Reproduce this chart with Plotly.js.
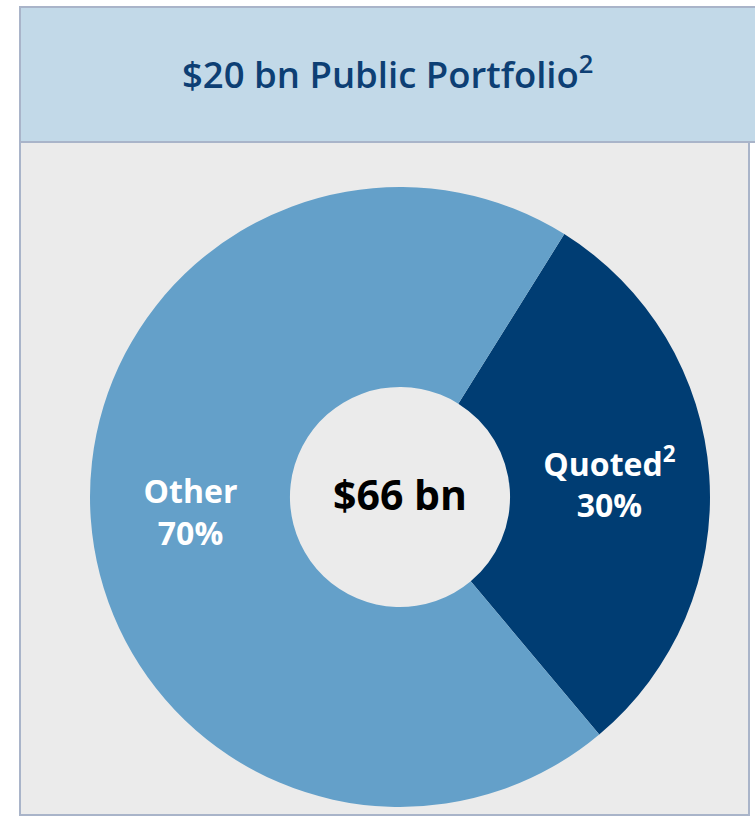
<!DOCTYPE html>
<html><head><meta charset="utf-8">
<script src="https://cdn.plot.ly/plotly-3.0.1.min.js"></script>
<style>html,body{margin:0;padding:0;background:#fff;}#chart{width:755px;height:817px;}</style>
</head><body><div id="chart"></div>
<script>
const categories = ["Quoted<sup>2</sup>", "Other"];
const shares = [30, 70];
const sliceColors = ["#003d73", "#64a0c9"];
const chartTitle = "$20 bn Public Portfolio<sup>2</sup>";
const centerLabel = "$66 bn";

const W = 755, H = 817;
const px = v => v / W, py = v => 1 - v / H;

const trace = {
  type: "pie",
  labels: categories,
  values: shares,
  sort: false,
  direction: "clockwise",
  rotation: 32,
  hole: 0.355,
  marker: {colors: sliceColors, line: {width: 0}},
  texttemplate: "%{label}<br>%{value}%",
  textposition: "inside",
  insidetextorientation: "horizontal",
  textfont: {family: "Open Sans", size: 32, color: "#ffffff", weight: 700},
  hoverinfo: "none",
  showlegend: false,
  domain: {x: [px(90), px(710)], y: [py(807), py(187)]},
  title: {text: centerLabel, position: "middle center", font: {family: "Open Sans", size: 41, color: "#000000", weight: 700}}
};

const layout = {
  width: W, height: H,
  margin: {l: 0, r: 0, t: 0, b: 0},
  paper_bgcolor: "#ffffff",
  showlegend: false,
  shapes: [
    {type: "rect", xref: "paper", yref: "paper", x0: px(20), x1: px(749), y0: py(815), y1: py(142), fillcolor: "#ebebeb", line: {color: "#a9b4c9", width: 2}, layer: "below"},
    {type: "rect", xref: "paper", yref: "paper", x0: px(20), x1: px(760), y0: py(142), y1: py(7), fillcolor: "#c2d9e8", line: {color: "#a9b4c9", width: 2}, layer: "below"}
  ],
  annotations: [
    {xref: "paper", yref: "paper", x: px(387), y: py(73), text: chartTitle, showarrow: false, xanchor: "center", yanchor: "middle",
     font: {family: "Open Sans", size: 36.5, color: "#0d3f74", weight: 600}}
  ]
};

Plotly.newPlot("chart", [trace], layout, {displayModeBar: false, staticPlot: true});
</script>
</body></html>
